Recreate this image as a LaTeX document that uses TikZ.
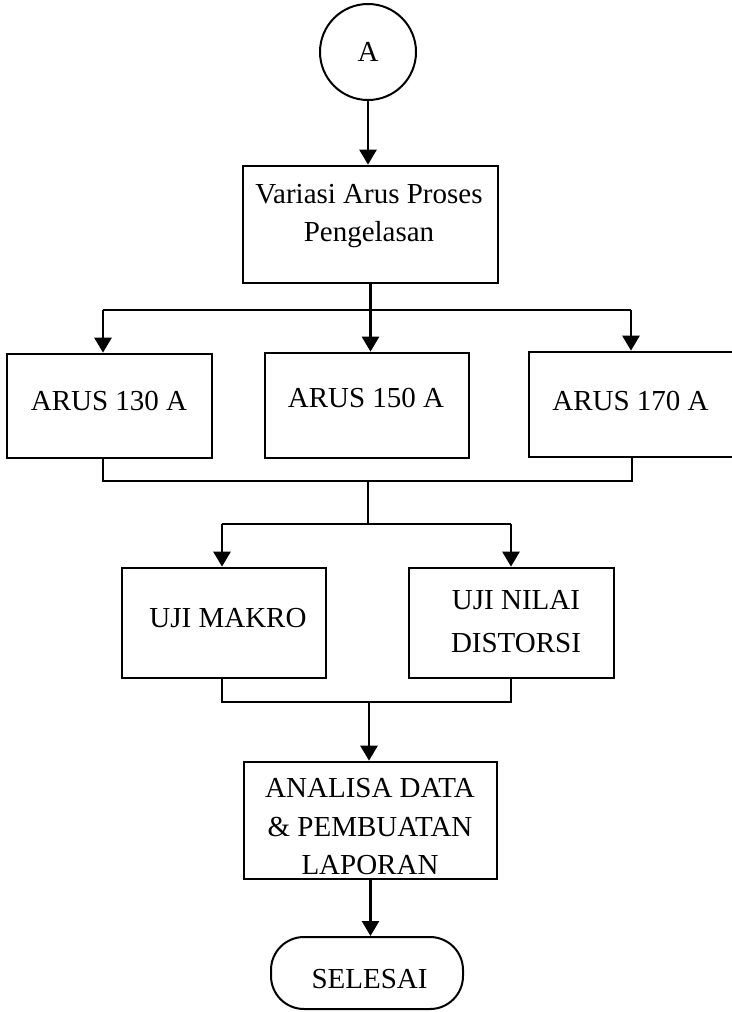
\documentclass[tikz,border=0pt]{standalone}
\usepackage{fontspec}
\setmainfont{Liberation Serif}
\usetikzlibrary{arrows.meta}
\begin{document}
\begin{tikzpicture}[x=1pt,y=-1pt,
  box/.style={draw,line width=2.7pt,rectangle,inner sep=0pt},
  txt/.style={font=\fontsize{29}{38}\selectfont,align=center,inner sep=0pt},
  flow/.style={line width=2.6pt,-{Triangle[length=15pt,width=17pt]}},
  feed/.style={line width=1.8pt},
  joinline/.style={line width=1.3pt}]
\useasboundingbox (0,0) rectangle (731,1012);

% connector circle
\node[draw,circle,line width=2pt,minimum size=96pt,inner sep=0pt,
      font=\fontsize{29}{34}\selectfont] (a) at (368,52) {A};

% process: current variation
\node[box,minimum width=255pt,minimum height=117pt] (var) at (370.5,224.5) {};
\node[txt] (vart) at (369,216.5) {Variasi Arus Proses\\Pengelasan};

% the three current levels
\node[box,minimum width=205pt,minimum height=104pt] (a130) at (109.5,406) {};
\node[txt] (a130t) at (109,401) {ARUS 130 A};
\node[box,minimum width=204pt,minimum height=105pt] (a150) at (367,405.5) {};
\node[txt] (a150t) at (366,398) {ARUS 150 A};
\node[box,minimum width=206pt,minimum height=105pt] (a170) at (632,404.5) {};
\node[txt] (a170t) at (630.5,401) {ARUS 170 A};

% tests
\node[box,minimum width=204pt,minimum height=110pt] (makro) at (224,623) {};
\node[txt] (makrot) at (228,618) {UJI MAKRO};
\node[box,minimum width=205pt,minimum height=110pt] (dist) at (511.5,623) {};
\node[txt,font=\fontsize{29}{43}\selectfont] (distt) at (516,622) {UJI NILAI\\DISTORSI};

% analysis and report
\node[box,minimum width=253pt,minimum height=117pt] (ana) at (370.5,820.5) {};
\node[txt,font=\fontsize{29}{38.5}\selectfont] (anat) at (370,827) {ANALISA DATA\\\& PEMBUATAN\\LAPORAN};

% terminator
\node[draw,line width=2pt,rounded corners=33pt,minimum width=192pt,minimum height=72pt,
      inner sep=0pt] (end) at (367,973) {};
\node[txt] (endt) at (369.5,979) {SELESAI};

% split into the three currents
\coordinate (s1) at (103,310);
\coordinate (s3) at (631,310);
\draw[flow] (a.south) -- (a.south |- var.north);
\draw[feed] (s1) -- (s3);
\draw[flow] (var.south) -- (var.south |- a150.north);
\draw[flow] (s1) -- (s1 |- a130.north);
\draw[flow] (s3) -- (s3 |- a170.north);

% merge of the current levels
\coordinate (j1) at (103,481);
\coordinate (j2) at (368,481);
\coordinate (j3) at (632,481);
\coordinate (k1) at (222,524);
\coordinate (k2) at (368,524);
\coordinate (k3) at (511,524);
\draw[joinline] (j1 |- a130.south) -- (j1) -- (j3) -- (j3 |- a170.south);
\draw[joinline] (j2) -- (k2);

% split into the two tests
\draw[feed] (k1) -- (k3);
\draw[flow] (k1) -- (k1 |- makro.north);
\draw[flow] (k3) -- (k3 |- dist.north);

% merge of the tests
\coordinate (m1) at (222,702);
\coordinate (m2) at (369,702);
\coordinate (m3) at (511,702);
\draw[joinline] (m1 |- makro.south) -- (m1) -- (m3) -- (m3 |- dist.south);
\draw[flow] (m2) -- (m2 |- ana.north);
\draw[flow] (ana.south) -- (ana.south |- end.north);
\end{tikzpicture}
\end{document}
